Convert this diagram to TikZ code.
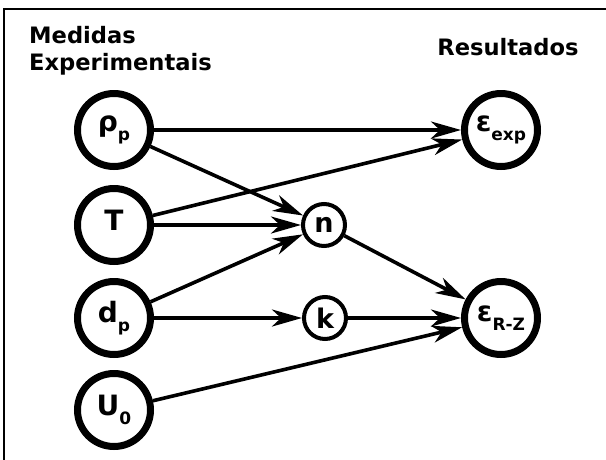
\documentclass[tikz,border=0pt]{standalone}
\usepackage{fontspec}
\setmainfont{DejaVu Sans}
\usetikzlibrary{arrows.meta}
\newcommand{\nlab}[2]{{\fontsize{28}{28}\selectfont #1}\raisebox{-9pt}{\fontsize{17}{17}\selectfont #2}}
\begin{document}
\begin{tikzpicture}[x=1pt,y=-1pt,
  big/.style={circle,draw,line width=7pt,minimum size=73pt,inner sep=0pt,font=\bfseries},
  small/.style={circle,draw,line width=4pt,minimum size=42pt,inner sep=0pt,font=\bfseries\fontsize{27}{27}\selectfont},
  conn/.style={line width=3.6pt,-{Stealth[length=30pt,width=17pt,inset=9pt]}},
  title/.style={font=\bfseries\fontsize{22.6}{27}\selectfont,inner sep=0pt}]
\useasboundingbox (0,0) rectangle (606,459);
\draw[line width=2pt] (4,460) -- (4,9) -- (607,9);
\node[title,anchor=base west,align=left] (tmed) at (29,70) {Medidas\\Experimentais};
\node[title,anchor=base] (tres) at (508,55) {Resultados};
\node[big] (rho) at (114,130) {\nlab{ρ}{p}};
\node[big] (T) at (114,225) {\nlab{T}{}};
\node[big] (dp) at (114,318) {\nlab{d}{p}};
\node[big] (U) at (114,410) {\nlab{U}{0}};
\node[small] (n) at (324,225) {n};
\node[small] (k) at (325,318) {k};
\node[big] (eexp) at (501,130) {\nlab{ε}{exp}};
\node[big] (erz) at (501,318) {\nlab{ε}{R-Z}};
\draw[conn] (rho) -- (eexp);
\draw[conn] (rho) -- (n);
\draw[conn] (T) -- (eexp);
\draw[conn] (T) -- (n);
\draw[conn] (dp) -- (n);
\draw[conn] (dp) -- (k);
\draw[conn] (n) -- (erz);
\draw[conn] (k) -- (erz);
\draw[conn] (U) -- (erz);
\end{tikzpicture}
\end{document}
